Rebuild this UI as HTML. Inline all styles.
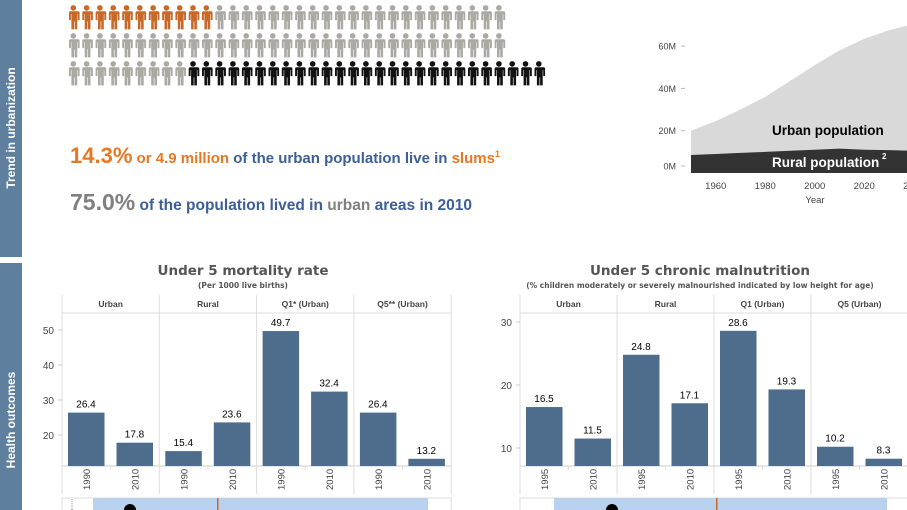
<!DOCTYPE html>
<html><head><meta charset="utf-8"><style>
body{margin:0;width:907px;height:510px;overflow:hidden;background:#fff;font-family:"Liberation Sans",sans-serif}
svg{display:block}
</style></head><body>
<svg id="s" width="907" height="510" xmlns="http://www.w3.org/2000/svg">
<defs>
<g id="person"><circle cx="6.3" cy="2.9" r="2.8"/><path d="M1.6 6.3h9.4q1.6 0 1.6 1.6v7.2h-1.9v-6h-0.5v15.3h-2.6v-8h-0.6v8h-2.6v-15.3h-0.5v6h-1.9v-7.2q0-1.6 1.6-1.6z"/></g>
</defs>
<rect x="0" y="0" width="22" height="257" fill="#5f7f9f"/>
<text transform="translate(15,128) rotate(-90)" text-anchor="middle" font-size="12" font-weight="bold" fill="#fff">Trend in urbanization</text>
<rect x="0" y="263" width="22" height="247" fill="#5f7f9f"/>
<text transform="translate(15,420) rotate(-90)" text-anchor="middle" font-size="12" font-weight="bold" fill="#fff">Health outcomes</text>
<g id="picto"></g>
<text x="70" y="163" font-size="15" font-weight="bold" fill="#3c5f98"><tspan font-size="22" fill="#e87722">14.3%</tspan><tspan fill="#e87722"> or 4.9 million</tspan> of the urban population live in <tspan fill="#e87722">slums</tspan><tspan fill="#e87722" font-size="9" dy="-6">1</tspan></text>
<text x="70" y="210" font-size="15.5" font-weight="bold" fill="#3c5f98"><tspan font-size="23" fill="#808080">75.0%</tspan> of the population lived in <tspan fill="#808080">urban</tspan> areas in 2010</text>
<g id="area"></g>
<g id="c1"></g>
<g id="c2"></g>
</svg>
<script>
const NS='http://www.w3.org/2000/svg';
function el(p,t,a,txt){const e=document.createElementNS(NS,t);for(const k in a)e.setAttribute(k,a[k]);if(txt!==undefined)e.textContent=txt;p.appendChild(e);return e;}
// pictogram
const pictoRows=[[11,22,'#c8692a','#aaa9a3'],[0,33,'#aaa9a3','#aaa9a3'],[9,27,'#aaa9a3','#111']];
const pg=document.getElementById('picto');
pictoRows.forEach((r,ri)=>{const n=r[0]+r[1];for(let i=0;i<n;i++){const u=el(pg,'use',{href:'#person',x:67+i*13.3,y:5+ri*28,fill:i<r[0]?r[2]:r[3]});

}});
// area chart
const years=[1950,1960,1970,1980,1990,2000,2010,2020,2030,2040,2050];
const totalPop=[20,24.5,30,36,43.5,51,58,63.5,67.5,70.5,72];
const ruralPop=[8.5,9,9.5,10,10.5,11,11.5,11,10.8,10.5,10.2];
const yTicks=[0,20,40,60];
const xTicks=[1960,1980,2000,2020,2040];
const A=document.getElementById('area');
const ax=y=>691+(y-1950)*2.475, ay=v=>173-v*2.115;
let d='M'+ax(1950)+','+ay(0);years.forEach((y,i)=>d+='L'+ax(y)+','+ay(totalPop[i]));d+='L'+ax(2050)+','+ay(0)+'Z';
let ua=el(A,'path',{d:d,fill:'#d9d9d9'});


d='M'+ax(1950)+','+ay(0);years.forEach((y,i)=>d+='L'+ax(y)+','+ay(ruralPop[i]));d+='L'+ax(2050)+','+ay(0)+'Z';
let ra=el(A,'path',{d:d,fill:'#333'});


yTicks.forEach(v=>{const yy=v===0?ay(v)-7:ay(v);el(A,'line',{x1:681,x2:685,y1:yy,y2:yy,stroke:'#bbb'});
let t=el(A,'text',{x:676,y:yy+3.5,'text-anchor':'end','font-size':9,fill:'#444'},v+'M');

});
xTicks.forEach(v=>{let t=el(A,'text',{x:ax(v),y:189,'text-anchor':'middle','font-size':9.5,fill:'#444'},v);

});
let xt=el(A,'text',{x:815,y:203,'text-anchor':'middle','font-size':9.5,fill:'#444'},'Year');


let ul=el(A,'text',{x:772,y:135,'font-size':13.5,'font-weight':'bold',fill:'#000'},'Urban population');


let rl=el(A,'text',{x:772,y:167,'font-size':13.5,'font-weight':'bold',fill:'#fff'},'Rural population');


el(A,'text',{x:882,y:159,'font-size':8,'font-weight':'bold',fill:'#fff'},'2');
// bar charts
const panels1=['Urban','Rural','Q1* (Urban)','Q5** (Urban)'];
const years1=['1990','2010'];
const values1=[26.4,17.8,15.4,23.6,49.7,32.4,26.4,13.2];
const ticks1=[20,30,40,50];
const panels2=['Urban','Rural','Q1 (Urban)','Q5 (Urban)'];
const years2=['1995','2010'];
const values2=[16.5,11.5,24.8,17.1,28.6,19.3,10.2,8.3];
const ticks2=[10,20,30];
function bars(g,cfg){
 const {x0,pw,title,sub,cx,panels,yrs,vals,ticks,base,tickY,scale,strip}=cfg;
 const y=v=>tickY-(v-base)*scale;
 let t=el(g,'text',{x:cx,y:275,'text-anchor':'middle','font-size':13.5,'font-weight':'bold',fill:'#555','font-family':'DejaVu Sans, sans-serif'},title);
 
 
 t=el(g,'text',{x:cx,y:288,'text-anchor':'middle','font-size':7.5,'font-weight':'bold',fill:'#555','font-family':'DejaVu Sans, sans-serif'},sub);
 
 
 el(g,'line',{x1:x0,x2:x0+pw*4,y1:313,y2:313,stroke:'#ddd'});
 el(g,'line',{x1:x0,x2:x0+pw*4,y1:466,y2:466,stroke:'#ccc'});
 for(let i=0;i<=4;i++)el(g,'line',{x1:x0+i*pw,x2:x0+i*pw,y1:295,y2:494,stroke:'#ddd'});
 ticks.forEach(v=>{el(g,'line',{x1:x0-4,x2:x0,y1:y(v),y2:y(v),stroke:'#ccc'});
  let tl=el(g,'text',{x:x0-8,y:y(v)+4,'text-anchor':'end','font-size':10,fill:'#444'},v);
  
  });
 panels.forEach((p,pi)=>{
  let h=el(g,'text',{x:x0+pi*pw+pw/2,y:307,'text-anchor':'middle','font-size':8.5,'font-weight':'bold',fill:'#444'},p);
  
  
  yrs.forEach((yr,yi)=>{
   const v=vals[pi*2+yi], bx=x0+pi*pw+6+yi*48.5;
   let r=el(g,'rect',{x:bx,y:y(v),width:36.5,height:466-y(v),fill:'#4e6d8c'});
   
   
   let l=el(g,'text',{x:bx+18,y:y(v)-5,'text-anchor':'middle','font-size':10,fill:'#000'},v.toFixed(1));
   
   
   let yl=el(g,'text',{transform:`translate(${bx+22},490) rotate(-90)`,'font-size':9.5,fill:'#444'},yr);
   
   
   if(yi==1)el(g,'line',{x1:bx-6,x2:bx-6,y1:466,y2:470,stroke:'#ddd'});
  });
 });
 el(g,'rect',{x:x0,y:498,width:pw*4,height:14,fill:'#fff',stroke:'#ddd'});
 let b=el(g,'rect',{x:strip[0],y:498,width:strip[1]-strip[0],height:14,fill:'#b8d1ee'});
 
 
 el(g,'rect',{x:strip[2],y:498,width:1.5,height:14,fill:'#c8692a'});
 let c=el(g,'circle',{cx:strip[3],cy:510,r:6,fill:'#000'});
 
 
}
bars(document.getElementById('c1'),{x0:62,pw:97.3,title:'Under 5 mortality rate',sub:'(Per 1000 live births)',cx:243,panels:panels1,yrs:years1,vals:values1,ticks:ticks1,base:20,tickY:435,scale:3.5,strip:[93,428,217,130]});
bars(document.getElementById('c2'),{x0:520,pw:97,title:'Under 5 chronic malnutrition',sub:'(% children moderately or severely malnourished indicated by low height for age)',cx:700,panels:panels2,yrs:years2,vals:values2,ticks:ticks2,base:10,tickY:448,scale:6.3,strip:[554,887,716,612]});
el(document.getElementById('c1'),'line',{x1:72,x2:72,y1:499,y2:510,stroke:'#999','stroke-dasharray':'1,1'});
</script>
</body></html>
